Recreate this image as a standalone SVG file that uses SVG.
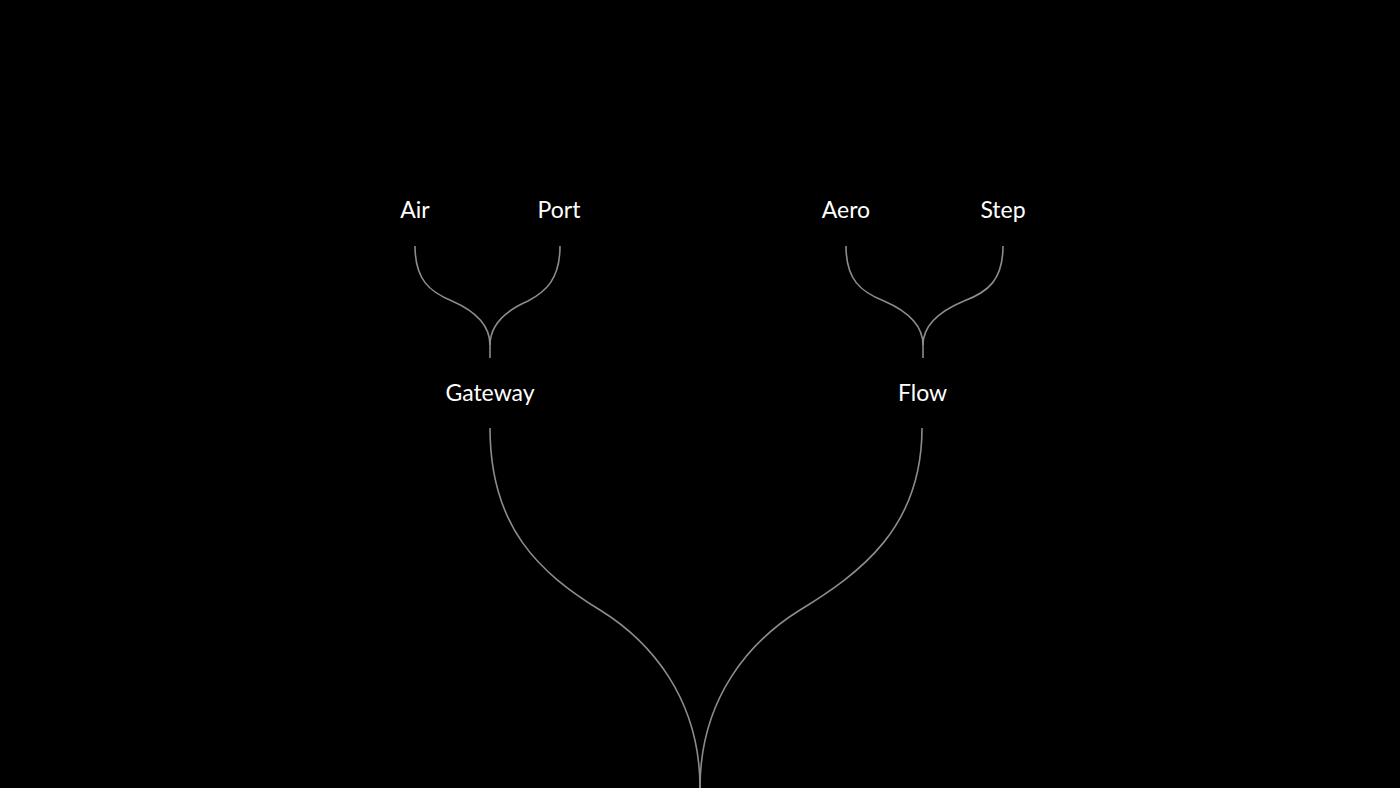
<svg xmlns="http://www.w3.org/2000/svg" width="1400" height="788" viewBox="0 0 1400 788">
<style>
.lbl{font-family:Lato,"Noto Sans","Liberation Sans",sans-serif;font-size:23px;fill:#ffffff;text-anchor:middle}
.c{fill:none;stroke:#8c8c8c;stroke-width:1.6}
</style>
<rect width="1400" height="788" fill="#000000"/>
<g id="connectors">
<path class="c" d="M415,246 C415,280 430,292 452,301 C475,311 490,325 490,345 L490,358"/>
<path class="c" d="M560,246 C560,280 545,292 528,301 C505,311 490,325 490,345"/>
<path class="c" d="M846,246 C846,280 861,292 884,301 C907,311 923,325 923,345 L923,358"/>
<path class="c" d="M1003,246 C1003,280 988,292 964,301 C940,311 923,325 923,345"/>
<path class="c" d="M490,428 C490,528 540,573 600,610 C650,641 700,698 700,788"/>
<path class="c" d="M922,428 C922,528 860,573 800,610 C750,641 700,698 700,788"/>
</g>
<g id="node-air"><text class="lbl" x="415" y="218">Air</text></g>
<g id="node-port"><text class="lbl" x="559" y="218">Port</text></g>
<g id="node-aero"><text class="lbl" x="846" y="218">Aero</text></g>
<g id="node-step"><text class="lbl" x="1003" y="218">Step</text></g>
<g id="node-gateway"><text class="lbl" x="490" y="401">Gateway</text></g>
<g id="node-flow"><text class="lbl" x="922.5" y="401">Flow</text></g>
</svg>
